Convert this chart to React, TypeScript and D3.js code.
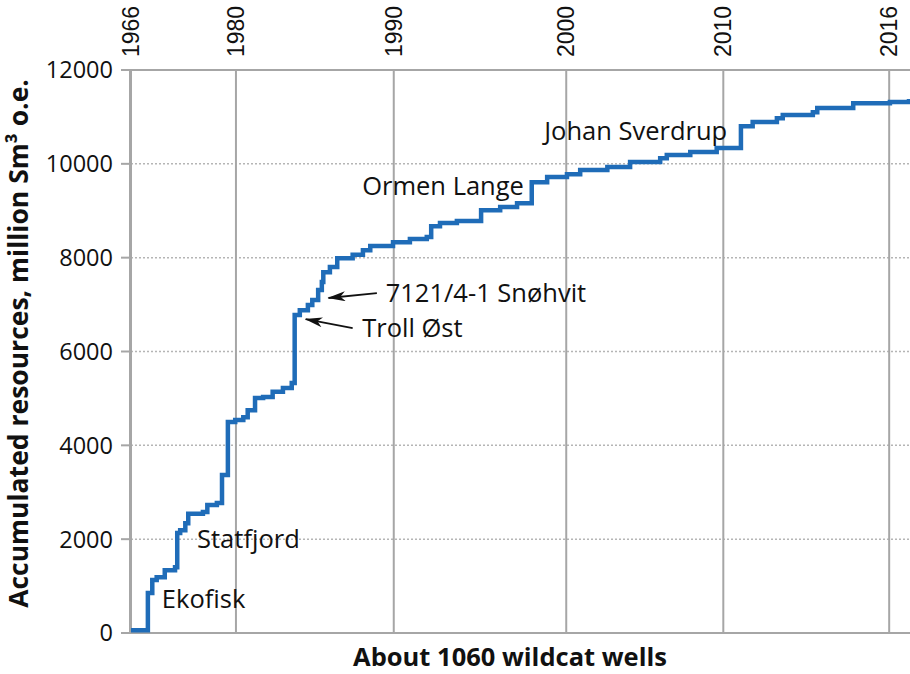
import React from 'react';
import * as d3 from 'd3';

// cumulative resources (million Sm3 o.e.) after each wildcat well number
const wells = [0, 23, 29, 35, 46, 60, 63, 67, 74, 78, 98, 104, 117, 124, 132, 142, 153, 159, 169, 180, 193, 207, 219, 223, 230, 241, 247, 255, 260, 262, 271, 281, 302, 316, 326, 357, 380, 403, 409, 421, 444, 477, 503, 526, 546, 567, 594, 612, 649, 680, 721, 730, 762, 798, 831, 847, 880, 888, 929, 935, 984, 1034, 1060];
const resources = [60, 850, 1130, 1190, 1340, 1400, 2130, 2190, 2340, 2540, 2580, 2730, 2770, 3370, 4500, 4540, 4600, 4750, 5010, 5030, 5140, 5220, 5330, 6780, 6880, 6990, 7100, 7310, 7480, 7690, 7800, 7990, 8060, 8160, 8250, 8330, 8400, 8440, 8670, 8740, 8780, 9010, 9080, 9160, 9610, 9720, 9780, 9870, 9930, 10040, 10120, 10190, 10250, 10340, 10800, 10890, 10970, 11040, 11100, 11190, 11290, 11320, 11380];

const yearLabels = ['1966', '1980', '1990', '2000', '2010', '2016'];
const yearWells = [0, 143, 358, 593, 807, 1033];

const yTicks = [0, 2000, 4000, 6000, 8000, 10000, 12000];

const fieldNames = ['Ekofisk', 'Statfjord', 'Troll Øst', '7121/4-1 Snøhvit', 'Ormen Lange', 'Johan Sverdrup'];
const fieldWells = [42, 90, 315, 347, 315, 563];
const fieldValues = [530, 1810, 6310, 7050, 9330, 10510];

// arrows: [tail well, tail value, head well, head value]
const arrows = [
  [335, 7245, 269, 7140],
  [302, 6500, 238, 6690],
];

const W = 910;
const H = 674;
const margin = { top: 70, right: 1, bottom: 41, left: 131 };

const font = '"Open Sans", Lato, sans-serif';
const blue = '#1f6cb8';
const grey = '#a6a6a6';

export default function App() {
  const x = d3.scaleLinear().domain([0, 1060]).range([margin.left, W - margin.right]);
  const y = d3.scaleLinear().domain([0, 12000]).range([H - margin.bottom, margin.top]);

  const pts: [number, number][] = wells.map((w, i) => [w, resources[i]]);
  const line = d3.line<[number, number]>()
    .x(d => x(d[0]))
    .y(d => y(d[1]))
    .curve(d3.curveStepAfter);

  const x0 = margin.left;
  const x1 = W - margin.right;
  const yTop = y(12000);
  const yBot = y(0);

  return (
    <div style={{ position: 'absolute', left: 0, top: 0 }}>
      <svg width={W} height={H} style={{ display: 'block', background: '#fff' }}>
        <defs>
          <marker id="arr" viewBox="0 0 18 10" refX="17" refY="5" markerWidth="18" markerHeight="10" orient="auto" markerUnits="userSpaceOnUse">
            <path d="M18,5 L0,0 L5,5 L0,10 Z" fill="#111" />
          </marker>
        </defs>

        {/* dotted horizontal grid */}
        {yTicks.filter(t => t > 0 && t < 12000).map(t => (
          <line key={t} x1={x0} x2={x1} y1={y(t)} y2={y(t)} stroke="#b5b5b5" strokeWidth={1.5} strokeDasharray="2,2" />
        ))}

        {/* year grid */}
        {yearWells.map((w, i) => (
          <g key={yearLabels[i]}>
            <line x1={x(w)} x2={x(w)} y1={yTop} y2={yBot} stroke={grey} strokeWidth={2} />
            <text
              transform={`translate(${x(w) + 8},${yTop - 13}) rotate(-90)`}
              fontFamily='"Liberation Sans", Arial, sans-serif'
              fontSize={23}
              fill="#111"
            >{yearLabels[i]}</text>
          </g>
        ))}

        {/* axes frame */}
        <line x1={x0 - 10} x2={x1 + 1} y1={yTop} y2={yTop} stroke={grey} strokeWidth={2} />
        <line x1={x0 - 10} x2={x1 + 1} y1={yBot} y2={yBot} stroke={grey} strokeWidth={2} />
        <line x1={x0 - 1} x2={x0 - 1} y1={yTop} y2={yBot} stroke={grey} strokeWidth={2} />
        {yTicks.map(t => (
          <g key={t}>
            <line x1={x0 - 10} x2={x0} y1={y(t)} y2={y(t)} stroke={grey} strokeWidth={2} />
            <text x={x0 - 18} y={y(t)} dy="0.36em" textAnchor="end" fontFamily={font} fontSize={23.5} fill="#111">{t}</text>
          </g>
        ))}

        {/* accumulated resources */}
        <path d={line(pts) || ''} fill="none" stroke={blue} strokeWidth={4.5} strokeLinejoin="miter" />

        {/* field labels */}
        {fieldNames.map((n, i) => (
          <text key={n} x={x(fieldWells[i])} y={y(fieldValues[i])} fontFamily={font} fontSize={25.5} fill="#111">{n}</text>
        ))}
        {arrows.map((a, i) => (
          <line key={i} x1={x(a[0])} y1={y(a[1])} x2={x(a[2])} y2={y(a[3])} stroke="#111" strokeWidth={1.8} markerEnd="url(#arr)" />
        ))}

        {/* axis titles */}
        <text x={510} y={666} textAnchor="middle" fontFamily={font} fontWeight="bold" fontSize={25.5} fill="#111">About 1060 wildcat wells</text>
        <text transform={`translate(28,${(yTop + yBot) / 2 - 8}) rotate(-90)`} textAnchor="middle" fontFamily={font} fontWeight="bold" fontSize={26.5} fill="#111">Accumulated resources, million Sm³ o.e.</text>
      </svg>
    </div>
  );
}
